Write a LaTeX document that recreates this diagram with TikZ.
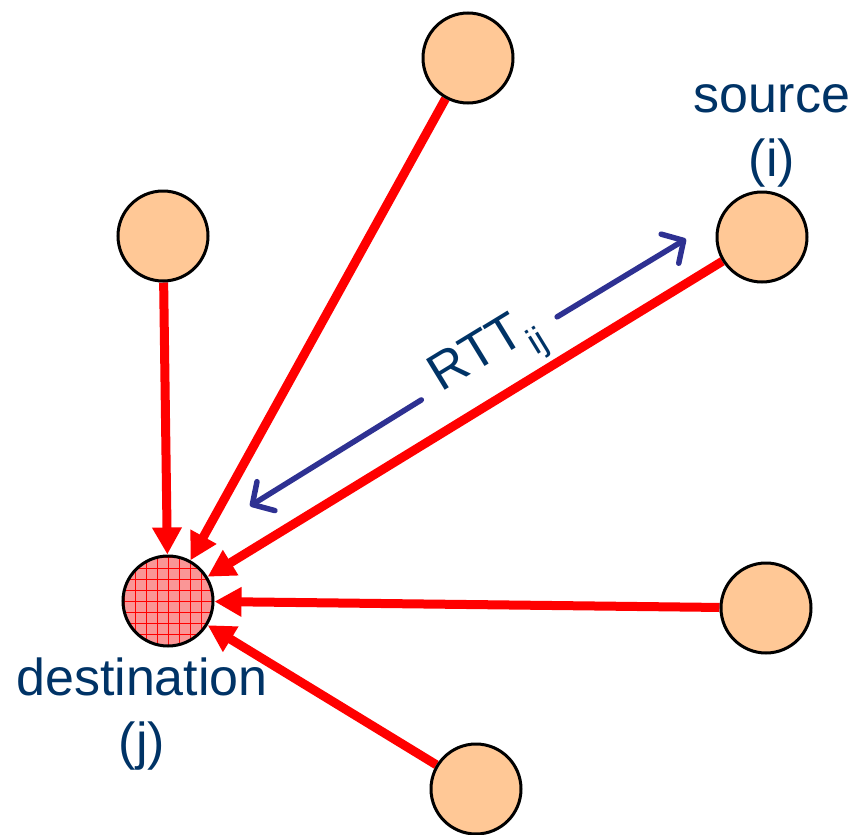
\documentclass[tikz,border=0pt]{standalone}
\usepackage{fontspec}
\setmainfont{Liberation Sans}
\usetikzlibrary{arrows.meta}
\definecolor{peach}{RGB}{255,200,150}
\definecolor{navy}{RGB}{46,49,146}
\definecolor{txt}{RGB}{0,51,102}
\definecolor{hatchfill}{RGB}{250,150,150}
\pgfdeclarelayer{bg}
\pgfsetlayers{bg,main}
\begin{document}
\begin{tikzpicture}[x=1pt,y=-1pt,
  peer/.style={circle,draw=black,line width=3pt,fill=peach,minimum size=90pt,inner sep=0pt},
  dest/.style={circle,draw=black,line width=3pt,fill=hatchfill,minimum size=90pt,inner sep=0pt,
    path picture={\draw[red,line width=0.8pt,step=11pt] ([shift={(-3pt,-3pt)}]path picture bounding box.south west) grid (path picture bounding box.north east);}},
  link/.style={draw=red,line width=9pt,-{Triangle[length=27pt,width=28pt]}},
  rtt/.style={draw=navy,line width=5.5pt,line cap=round,-{Straight Barb[length=16pt,width=34pt,line cap=round,line join=round]}},
  lbl/.style={text=txt,font=\fontsize{52}{64}\selectfont,align=center,inner sep=0pt}]
\useasboundingbox (0,0) rectangle (854,835);
\node[peer] (top) at (468,58) {};
\node[peer] (lft) at (163,236) {};
\node[peer] (src) at (762,237) {};
\node[dest] (dst) at (168,601) {};
\node[peer] (rgt) at (766,608) {};
\node[peer] (bot) at (476,789) {};
\node[lbl,anchor=south] (srclbl) at (772,187) {source\\(i)};
\node[lbl,anchor=south] (dstlbl) at (142,770) {destination\\(j)};
\coordinate (ra) at (250,506);
\coordinate (rb) at (686,239);
\node[lbl,rotate=31.4,inner xsep=21pt] (rttl) at (489,358) {RTT\textsubscript{ij}};
\draw[rtt] (rttl) -- (ra);
\draw[rtt] (rttl) -- (rb);
\begin{pgfonlayer}{bg}
\draw[link] (lft) -- (dst);
\draw[link] (top) -- (dst);
\draw[link] (src) -- (dst);
\draw[link] (rgt) -- (dst);
\draw[link] (bot) -- (dst);
\end{pgfonlayer}
\end{tikzpicture}
\end{document}
